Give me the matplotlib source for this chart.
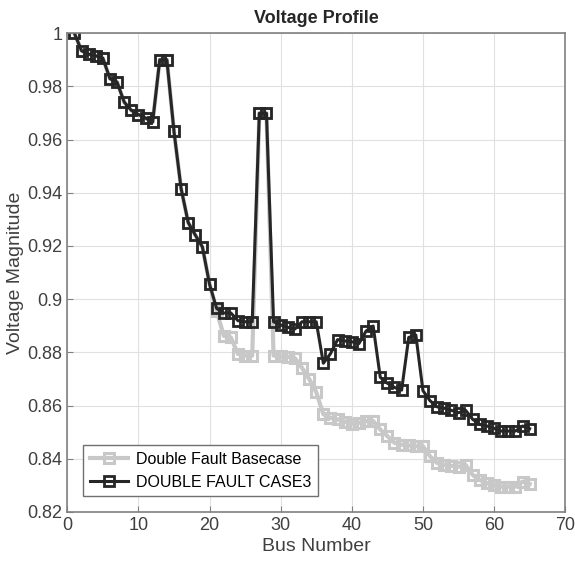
import numpy as np
import matplotlib.pyplot as plt

plt.rcParams['font.family'] = ['Liberation Sans', 'DejaVu Sans']
plt.rcParams['font.size'] = 13

# bus numbers 1..65
bus = np.arange(1, 66)

# DOUBLE FAULT CASE3 voltage magnitudes
case3 = [1.000, 0.9934, 0.9921, 0.9915, 0.9906, 0.9829, 0.9816, 0.9741, 0.9710, 0.9694,
         0.9681, 0.9666, 0.9900, 0.9900, 0.9631, 0.9416, 0.9288, 0.9241, 0.9196, 0.9056,
         0.8965, 0.8948, 0.8948, 0.8919, 0.8915, 0.8915, 0.9699, 0.9699, 0.8915, 0.8903,
         0.8894, 0.8888, 0.8915, 0.8915, 0.8915, 0.8759, 0.8795, 0.8848, 0.8843, 0.8840,
         0.8833, 0.8880, 0.8899, 0.8706, 0.8684, 0.8668, 0.8658, 0.8856, 0.8865, 0.8656,
         0.8618, 0.8595, 0.8590, 0.8582, 0.8573, 0.8582, 0.8548, 0.8529, 0.8523, 0.8514,
         0.8504, 0.8504, 0.8504, 0.8523, 0.8513]

# Double Fault Basecase voltage magnitudes
basecase = [1.000, 0.9934, 0.9921, 0.9915, 0.9906, 0.9829, 0.9816, 0.9741, 0.9710, 0.9694,
            0.9681, 0.9666, 0.9900, 0.9900, 0.9631, 0.9416, 0.9288, 0.9241, 0.9196, 0.9056,
            0.8955, 0.8862, 0.8856, 0.8794, 0.8788, 0.8788, 0.9699, 0.9699, 0.8788, 0.8785,
            0.8783, 0.8778, 0.8742, 0.8700, 0.8650, 0.8567, 0.8554, 0.8548, 0.8539, 0.8532,
            0.8535, 0.8542, 0.8542, 0.8510, 0.8485, 0.8460, 0.8453, 0.8450, 0.8447, 0.8447,
            0.8409, 0.8384, 0.8377, 0.8373, 0.8370, 0.8377, 0.8339, 0.8320, 0.8308, 0.8301,
            0.8295, 0.8295, 0.8295, 0.8314, 0.8305]


def main():
    fig = plt.figure(figsize=(5.75, 5.72), dpi=100)
    ax = fig.add_axes([0.117, 0.105, 0.866, 0.837])

    ax.plot(bus, basecase, color='#c8c8c8', lw=3, marker='s', ms=7.5,
            mfc='none', mec='#c8c8c8', mew=2.2, label='Double Fault Basecase')
    ax.plot(bus, case3, color='#262626', lw=2.2, marker='s', ms=7,
            mfc='none', mec='#262626', mew=2, label='DOUBLE FAULT CASE3')

    ax.set_xlim(0, 70)
    ax.set_ylim(0.82, 1.0)
    ax.set_xticks(np.arange(0, 71, 10))
    ax.set_yticks(np.arange(0.82, 1.001, 0.02))
    ax.set_yticklabels(['0.82', '0.84', '0.86', '0.88', '0.9', '0.92', '0.94', '0.96', '0.98', '1'])
    ax.grid(True, color='#e0e0e0', lw=0.8)
    ax.set_axisbelow(True)
    ax.tick_params(direction='in', colors='#808080', labelcolor='#404040', labelsize=13, length=4)
    for s in ax.spines.values():
        s.set_color('#808080')
        s.set_linewidth(1.2)

    ax.set_title('Voltage Profile', fontsize=13, fontweight='bold', color='#262626', pad=7)
    ax.set_xlabel('Bus Number', fontsize=14, color='#404040', labelpad=3)
    ax.set_ylabel('Voltage Magnitude', fontsize=14, color='#404040', labelpad=2)

    leg = ax.legend(loc='lower left', fontsize=11.5, fancybox=False, edgecolor='#707070',
                    framealpha=1, handlelength=2.4, borderaxespad=1.0, handletextpad=0.5)
    leg.get_frame().set_linewidth(1.0)

    fig.savefig('out.png', dpi=100)


if __name__ == '__main__':
    main()
